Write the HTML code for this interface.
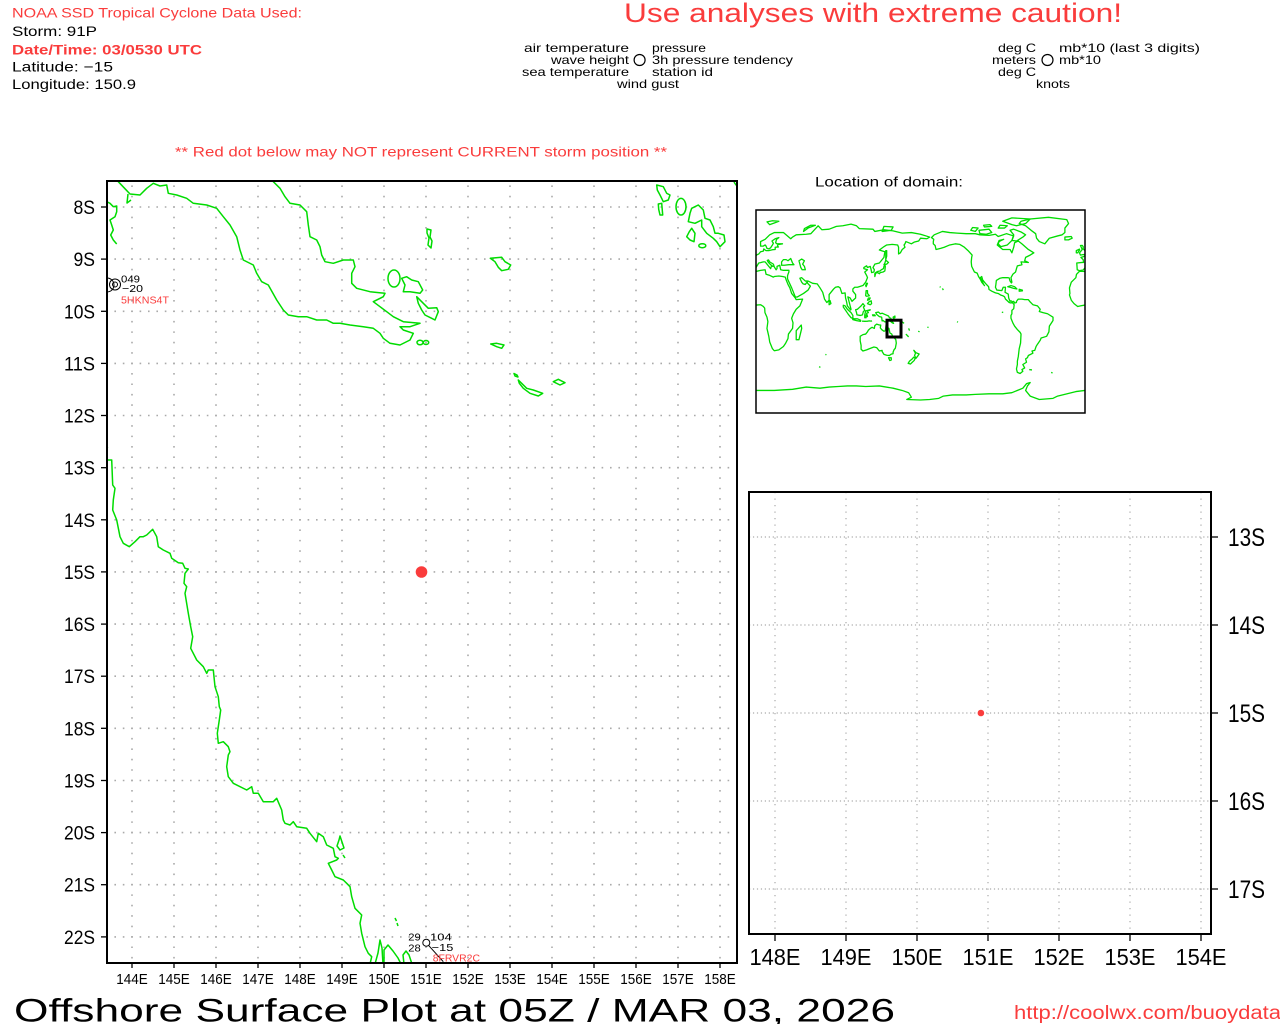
<!DOCTYPE html>
<html>
<head>
<meta charset="utf-8">
<style>
html,body{margin:0;padding:0;background:#fff;}
svg{display:block;}
text{font-family:"Liberation Sans",sans-serif;}
</style>
</head>
<body>
<svg width="1280" height="1024" viewBox="0 0 1280 1024" xmlns="http://www.w3.org/2000/svg">
<rect x="0" y="0" width="1280" height="1024" fill="#fff"/>

<!-- ===== Header text ===== -->
<text x="12" y="17.5" font-size="14" fill="#fa3c3c" textLength="290" lengthAdjust="spacingAndGlyphs">NOAA SSD Tropical Cyclone Data Used:</text>
<text x="12" y="36" font-size="14" fill="#000" textLength="85" lengthAdjust="spacingAndGlyphs">Storm: 91P</text>
<text x="12" y="54.3" font-size="14" font-weight="bold" fill="#fa3c3c" textLength="190" lengthAdjust="spacingAndGlyphs">Date/Time: 03/0530 UTC</text>
<text x="12" y="71.7" font-size="14" fill="#000" textLength="101" lengthAdjust="spacingAndGlyphs">Latitude: −15</text>
<text x="12" y="89" font-size="14" fill="#000" textLength="124" lengthAdjust="spacingAndGlyphs">Longitude: 150.9</text>

<text x="624" y="22" font-size="27" fill="#fa3c3c" textLength="498" lengthAdjust="spacingAndGlyphs">Use analyses with extreme caution!</text>

<!-- legend -->
<g font-size="12" fill="#000">
<text x="629" y="52" text-anchor="end" textLength="105" lengthAdjust="spacingAndGlyphs">air temperature</text>
<text x="652" y="52" textLength="54" lengthAdjust="spacingAndGlyphs">pressure</text>
<text x="629" y="64" text-anchor="end" textLength="78" lengthAdjust="spacingAndGlyphs">wave height</text>
<text x="652" y="64" textLength="141" lengthAdjust="spacingAndGlyphs">3h pressure tendency</text>
<text x="629" y="76" text-anchor="end" textLength="107" lengthAdjust="spacingAndGlyphs">sea temperature</text>
<text x="652" y="76" textLength="61" lengthAdjust="spacingAndGlyphs">station id</text>
<text x="617" y="88" textLength="62" lengthAdjust="spacingAndGlyphs">wind gust</text>
<text x="1036" y="52" text-anchor="end" textLength="38" lengthAdjust="spacingAndGlyphs">deg C</text>
<text x="1059" y="52" textLength="141" lengthAdjust="spacingAndGlyphs">mb*10 (last 3 digits)</text>
<text x="1036" y="64" text-anchor="end" textLength="44" lengthAdjust="spacingAndGlyphs">meters</text>
<text x="1059" y="64" textLength="42" lengthAdjust="spacingAndGlyphs">mb*10</text>
<text x="1036" y="76" text-anchor="end" textLength="38" lengthAdjust="spacingAndGlyphs">deg C</text>
<text x="1036" y="88" textLength="34" lengthAdjust="spacingAndGlyphs">knots</text>
</g>
<circle cx="639.6" cy="60" r="5.5" fill="none" stroke="#000" stroke-width="1.2"/>
<circle cx="1047.5" cy="60" r="5.5" fill="none" stroke="#000" stroke-width="1.2"/>

<text x="175" y="156.3" font-size="14" fill="#fa3c3c" textLength="492" lengthAdjust="spacingAndGlyphs">** Red dot below may NOT represent CURRENT storm position **</text>
<text x="815" y="186.7" font-size="14" fill="#000" textLength="148" lengthAdjust="spacingAndGlyphs">Location of domain:</text>

<!-- ===== Main map ===== -->
<defs>
<clipPath id="mainclip"><rect x="107" y="181" width="630" height="782"/></clipPath>
<clipPath id="locclip"><rect x="756" y="210" width="329" height="203"/></clipPath>
</defs>

<g stroke="#aaa" stroke-width="1.6" fill="none">
<g stroke-dasharray="1.6 6.8">
<line x1="106" y1="207" x2="737" y2="207"/>
<line x1="106" y1="259.1" x2="737" y2="259.1"/>
<line x1="106" y1="311.3" x2="737" y2="311.3"/>
<line x1="106" y1="363.4" x2="737" y2="363.4"/>
<line x1="106" y1="415.5" x2="737" y2="415.5"/>
<line x1="106" y1="467.7" x2="737" y2="467.7"/>
<line x1="106" y1="519.8" x2="737" y2="519.8"/>
<line x1="106" y1="571.9" x2="737" y2="571.9"/>
<line x1="106" y1="624.1" x2="737" y2="624.1"/>
<line x1="106" y1="676.2" x2="737" y2="676.2"/>
<line x1="106" y1="728.3" x2="737" y2="728.3"/>
<line x1="106" y1="780.5" x2="737" y2="780.5"/>
<line x1="106" y1="832.6" x2="737" y2="832.6"/>
<line x1="106" y1="884.7" x2="737" y2="884.7"/>
<line x1="106" y1="936.9" x2="737" y2="936.9"/>
</g>
<g stroke-dasharray="1.6 8.826">
<line x1="132" y1="185.35" x2="132" y2="963"/>
<line x1="174" y1="185.35" x2="174" y2="963"/>
<line x1="216" y1="185.35" x2="216" y2="963"/>
<line x1="258" y1="185.35" x2="258" y2="963"/>
<line x1="300" y1="185.35" x2="300" y2="963"/>
<line x1="342" y1="185.35" x2="342" y2="963"/>
<line x1="384" y1="185.35" x2="384" y2="963"/>
<line x1="426" y1="185.35" x2="426" y2="963"/>
<line x1="468" y1="185.35" x2="468" y2="963"/>
<line x1="510" y1="185.35" x2="510" y2="963"/>
<line x1="552" y1="185.35" x2="552" y2="963"/>
<line x1="594" y1="185.35" x2="594" y2="963"/>
<line x1="636" y1="185.35" x2="636" y2="963"/>
<line x1="678" y1="185.35" x2="678" y2="963"/>
<line x1="720" y1="185.35" x2="720" y2="963"/>
</g>
</g>

<!-- coastlines main -->
<g clip-path="url(#mainclip)" stroke="#00dc00" stroke-width="1.5" fill="none" stroke-linejoin="round">
<polyline points="118.3,181 118.3,181.7 130,194 140,195 146.7,188.3 153.3,183.3 160,186 166.7,185 168.3,193.3 176.7,195 186.7,198.3 193.3,203.3 206.7,205 216.7,208.3 223.3,216.7 230,225 236.7,236.7 240,250 243.3,260 253.3,265 256.7,273.3 261.7,281.7 268.3,285 276.7,300 283.3,310 288.3,315 298.3,316.7 306.7,316.7 316.7,320 326.7,320 333.3,323.3 340,323.3 350,325 363.3,326.7 373.3,328.3 380,333.3 383.3,338.3 390,343.3 400,345 410,340 413.3,333.3 403.3,330 400,326.7 410,326.7 420,323.3 403.3,321.7 393.3,316.7 386.7,311.7 380,306.7 373.3,301.7 383.3,296.7 385,293.3 370,291.7 356.7,288.3 351.7,283.3 351.7,273.3 355,266.7 353.3,260 343.3,260 333.3,263.3 325,261.7 321.7,255 320,246.7 316.7,240 310,236.7 308.3,225 306.7,211.7 300,205 290,203.3 285,196.7 280,188.3 273.3,181.7 272,180"/>
<polyline points="128,194 127,203 131,200"/>
<polyline points="106.7,201.7 110,203.3 113.3,206.7 116.7,206 116.7,211.7 115,216.7 110,220 111.7,225 113.3,230 110.7,235 113.3,240 116.7,244"/>
<!-- islands near PNG tip -->
<ellipse cx="394" cy="278.5" rx="6" ry="8.5"/>
<polygon points="401.7,278.3 406.7,276.7 411.7,280 418.3,281.7 422.7,290 420,293.3 410,291.7 403.3,291.7 405,285"/>
<polygon points="416.7,296.7 423.3,303.3 428.3,308.3 436.7,307.7 438.3,311.7 435,320 431.7,318.3 425,315 421.7,310 418.3,303.3"/>
<ellipse cx="420" cy="342.5" rx="3" ry="2.3"/>
<ellipse cx="426" cy="342.5" rx="2.7" ry="2"/>
<polygon points="427,229 431,230 430,237 432,241 431,248 428,245 429,238 427,233"/>
<polygon points="490.3,258.3 501.7,257.3 505,261.7 510.7,265 508.3,269.3 501.7,270.7 498.3,267.3 495,261.7"/>
<polygon points="490.7,344 496.7,343.3 504,345 501.7,348.3 496.7,346.7"/>
<polygon points="514,373.5 517,375 518,377 515,376"/>
<polygon points="518.3,380 526.7,388.3 533.3,390 542.7,393.3 538.3,396 530,393.3 523.3,388.3 519.3,383.3"/>
<polygon points="553.3,381.7 558.3,379.3 565,382.7 560,385"/>
<!-- Solomons top right -->
<polygon points="656.7,185 663.3,186.7 666.7,193.3 670,195 668.3,200 663.3,201.7 660,195 657.3,190"/>
<polygon points="658.3,204 661.7,203.3 662.7,215 660,215 658.7,209.3"/>
<ellipse cx="681" cy="206.7" rx="5" ry="8.3"/>
<polygon points="691.7,208.3 698.3,205 703.3,210 705,218.3 710,220 713.3,226.7 715,233.3 718.3,233.3 724,235 725,241.7 720,246.7 716.7,241.7 713.3,238.3 706.7,233.3 701.7,226.7 701.7,220 695,223.3 688.3,221.7 690,213.3"/>
<polygon points="691.7,228.3 695,233.3 694,241.7 690,240 686.7,236.7 689.3,231.7"/>
<ellipse cx="702.3" cy="245.7" rx="3.5" ry="2"/>
<polyline points="734,182 736,185 738,186"/>
<!-- Queensland -->
<polyline points="107,446 107.5,448"/>
<polyline points="106,460 111.7,460 112.7,485 115,488.3 113.3,500 112.7,510 116.7,520 120,536.7 123.3,543.3 129.3,546.7 135,541.7 140,536.7 143.3,536.7 146.7,535 152.7,529.3 156.7,536.7 158.3,546.7 163.3,550 170,553.3 171.7,558.3 178.3,562.7 182.7,563.3 185,568.3 188.3,569 185,573.3 184,583.3 186.7,586.7 185,593.3 188.3,613.3 190.7,626.7 192.7,636.7 190.7,648.3 196.7,660 203.3,666.7 206.7,673.3 208.3,670 213.3,670 215,686.7 218.3,696.7 219.3,706.7 220.7,710 219.3,720 217.3,733.3 218.3,743.3 223.3,741.7 228.3,746.7 230,751.7 228.3,755 226.7,766.7 228.3,776.7 233.3,783.3 246.7,790 251.7,786.7 253.3,793.3 258.3,793.3 263.3,801.7 273.3,801.7 276.7,798.3 281.7,810 283.3,820 285,823.3 290,825 293.3,821.7 296.7,826.7 306.7,828.3 310,833.3 316.7,841.7 318.3,833.3 323.3,836.7 326.7,845 333.3,848.3 335,856.7 338.3,858.3 336.7,860 328.3,863.3 331.7,870 335,876.7 343.3,880 346.7,883.3 350,886.7 351.7,896.7 355,908.3 361.7,915 360,923.3 361.7,933.3 365,946.7 368.3,953.3 371.7,956.7 370,964"/>
<polygon points="340,836 342,842 344,848 340,850 337,846 339,840"/>
<polyline points="343,855 345,858"/>
<polyline points="395,918 396.5,921"/>
<polyline points="397,923 398,926"/>
<polyline points="375,964 378,953 380,940 382,948 383,964"/>
<polyline points="384,964 384,950 388,945 393,951 398,958 401,964"/>
<polyline points="404,964 403,955 406,951 409,955 412,964"/>
</g>

<!-- stations -->
<g fill="none" stroke="#000" stroke-width="1">
<circle cx="115" cy="284.5" r="5.5"/>
<circle cx="115" cy="284.5" r="2.5"/>
<path d="M107,278 A7,7 0 0 1 107,292"/>
<circle cx="426.3" cy="942.7" r="3.5"/>
<line x1="428.5" y1="945.3" x2="443.3" y2="961.7"/>
</g>
<g font-size="10.5" fill="#000">
<text x="121" y="282.5" textLength="19" lengthAdjust="spacingAndGlyphs">049</text>
<text x="122" y="292" textLength="21" lengthAdjust="spacingAndGlyphs">−20</text>
<text x="121" y="303.5" fill="#fa3c3c" textLength="48" lengthAdjust="spacingAndGlyphs">5HKNS4T</text>
<text x="408.3" y="940.7" textLength="12.5" lengthAdjust="spacingAndGlyphs">29</text>
<text x="430" y="940.7" textLength="21.7" lengthAdjust="spacingAndGlyphs">104</text>
<text x="408.3" y="951.7" textLength="12.5" lengthAdjust="spacingAndGlyphs">28</text>
<text x="431.7" y="951" textLength="21.6" lengthAdjust="spacingAndGlyphs">−15</text>
<text x="432.7" y="961.7" fill="#fa3c3c" textLength="47.3" lengthAdjust="spacingAndGlyphs">8FRVR2C</text>
</g>

<!-- storm dot main -->
<circle cx="421.5" cy="572" r="5.8" fill="#fa3c3c"/>

<!-- main frame -->
<rect x="107" y="181" width="630" height="782" fill="none" stroke="#000" stroke-width="2"/>
<g stroke="#000" stroke-width="1.3">
<line x1="101" y1="207" x2="107" y2="207"/>
<line x1="101" y1="259.1" x2="107" y2="259.1"/>
<line x1="101" y1="311.3" x2="107" y2="311.3"/>
<line x1="101" y1="363.4" x2="107" y2="363.4"/>
<line x1="101" y1="415.5" x2="107" y2="415.5"/>
<line x1="101" y1="467.7" x2="107" y2="467.7"/>
<line x1="101" y1="519.8" x2="107" y2="519.8"/>
<line x1="101" y1="571.9" x2="107" y2="571.9"/>
<line x1="101" y1="624.1" x2="107" y2="624.1"/>
<line x1="101" y1="676.2" x2="107" y2="676.2"/>
<line x1="101" y1="728.3" x2="107" y2="728.3"/>
<line x1="101" y1="780.5" x2="107" y2="780.5"/>
<line x1="101" y1="832.6" x2="107" y2="832.6"/>
<line x1="101" y1="884.7" x2="107" y2="884.7"/>
<line x1="101" y1="936.9" x2="107" y2="936.9"/>
<line x1="132" y1="963" x2="132" y2="968"/>
<line x1="174" y1="963" x2="174" y2="968"/>
<line x1="216" y1="963" x2="216" y2="968"/>
<line x1="258" y1="963" x2="258" y2="968"/>
<line x1="300" y1="963" x2="300" y2="968"/>
<line x1="342" y1="963" x2="342" y2="968"/>
<line x1="384" y1="963" x2="384" y2="968"/>
<line x1="426" y1="963" x2="426" y2="968"/>
<line x1="468" y1="963" x2="468" y2="968"/>
<line x1="510" y1="963" x2="510" y2="968"/>
<line x1="552" y1="963" x2="552" y2="968"/>
<line x1="594" y1="963" x2="594" y2="968"/>
<line x1="636" y1="963" x2="636" y2="968"/>
<line x1="678" y1="963" x2="678" y2="968"/>
<line x1="720" y1="963" x2="720" y2="968"/>
</g>

<!-- main lat labels -->
<g font-size="19" fill="#000" text-anchor="end">
<text x="95" y="214" textLength="21.5" lengthAdjust="spacingAndGlyphs">8S</text>
<text x="95" y="266.1" textLength="21.5" lengthAdjust="spacingAndGlyphs">9S</text>
<text x="95" y="318.3" textLength="31" lengthAdjust="spacingAndGlyphs">10S</text>
<text x="95" y="370.4" textLength="31" lengthAdjust="spacingAndGlyphs">11S</text>
<text x="95" y="422.5" textLength="31" lengthAdjust="spacingAndGlyphs">12S</text>
<text x="95" y="474.7" textLength="31" lengthAdjust="spacingAndGlyphs">13S</text>
<text x="95" y="526.8" textLength="31" lengthAdjust="spacingAndGlyphs">14S</text>
<text x="95" y="578.9" textLength="31" lengthAdjust="spacingAndGlyphs">15S</text>
<text x="95" y="631.1" textLength="31" lengthAdjust="spacingAndGlyphs">16S</text>
<text x="95" y="683.2" textLength="31" lengthAdjust="spacingAndGlyphs">17S</text>
<text x="95" y="735.3" textLength="31" lengthAdjust="spacingAndGlyphs">18S</text>
<text x="95" y="787.5" textLength="31" lengthAdjust="spacingAndGlyphs">19S</text>
<text x="95" y="839.6" textLength="31" lengthAdjust="spacingAndGlyphs">20S</text>
<text x="95" y="891.7" textLength="31" lengthAdjust="spacingAndGlyphs">21S</text>
<text x="95" y="943.9" textLength="31" lengthAdjust="spacingAndGlyphs">22S</text>
</g>
<!-- main lon labels -->
<g font-size="15" fill="#000" text-anchor="middle">
<text x="132" y="984" textLength="31.5" lengthAdjust="spacingAndGlyphs">144E</text>
<text x="174" y="984" textLength="31.5" lengthAdjust="spacingAndGlyphs">145E</text>
<text x="216" y="984" textLength="31.5" lengthAdjust="spacingAndGlyphs">146E</text>
<text x="258" y="984" textLength="31.5" lengthAdjust="spacingAndGlyphs">147E</text>
<text x="300" y="984" textLength="31.5" lengthAdjust="spacingAndGlyphs">148E</text>
<text x="342" y="984" textLength="31.5" lengthAdjust="spacingAndGlyphs">149E</text>
<text x="384" y="984" textLength="31.5" lengthAdjust="spacingAndGlyphs">150E</text>
<text x="426" y="984" textLength="31.5" lengthAdjust="spacingAndGlyphs">151E</text>
<text x="468" y="984" textLength="31.5" lengthAdjust="spacingAndGlyphs">152E</text>
<text x="510" y="984" textLength="31.5" lengthAdjust="spacingAndGlyphs">153E</text>
<text x="552" y="984" textLength="31.5" lengthAdjust="spacingAndGlyphs">154E</text>
<text x="594" y="984" textLength="31.5" lengthAdjust="spacingAndGlyphs">155E</text>
<text x="636" y="984" textLength="31.5" lengthAdjust="spacingAndGlyphs">156E</text>
<text x="678" y="984" textLength="31.5" lengthAdjust="spacingAndGlyphs">157E</text>
<text x="720" y="984" textLength="31.5" lengthAdjust="spacingAndGlyphs">158E</text>
</g>

<!-- ===== Locator map ===== -->
<g clip-path="url(#locclip)">
<g transform="translate(756,311.5) scale(0.91389,-1.1278)" fill="none" stroke="#00dc00" stroke-width="1.3" vector-effect="non-scaling-stroke" stroke-linejoin="round">
<!-- Africa -->
<polyline vector-effect="non-scaling-stroke" points="0,5.7 5,6 8,4.5 9.5,3 9.8,-1 12,-5 13,-9 12,-15 14,-22 15,-27 18,-33 20,-34.8 25,-34 30,-31 32.5,-28 35,-24 35.5,-20 40,-15 40.5,-10 39,-6 41,-2 44,2 48,5 51,11 44,10.5 43,12 39,16 37,21 35,24 33,28 32,30.5 29,31 25,31.5 20,31 19,30.5 15,32 11,33 10,37 5,36.5 0,35.5"/>
<polyline vector-effect="non-scaling-stroke" points="360,5.7 355,5 352,4.4 348,7 345,10 343,14.7 343.5,16 343,21 345,26 350,30 350.7,33 354,35.7 360,35.5"/>
<polygon vector-effect="non-scaling-stroke" points="44,-25 47,-25 50,-15 49.5,-12 44,-17"/>
<!-- Eurasia -->
<polyline vector-effect="non-scaling-stroke" points="0,39 3,43 5,43.3 8,44 10,44 12.5,41.5 16,38 17,40.5 18.5,40 16,41.5 13.5,43.6 12.3,45.3 13.7,45.7 15,44 19,42 20,39.5 22,37 23,38 23,40 26,41 27,37 30,36.5 36,36.5 36,35 35,33 34.5,31.5 34.5,29 35,28 39,21 43,13 45,12.8 52,16 57,19 59.5,22.5 56.5,25 56,26.3 54,24 51.5,24.5 50,26 48,29.5 50,30 54,27 57,27 62,25 67,24.5 70,21 73,17 75,11 77.5,8 80,10 80,15 85,20 87,21.5 90,22 92,21 94,16 97.5,16.5 98,12 99,9 100,5 103.5,1.3 104,2 103,5 100.5,13 103,12 105,9 107,10.5 109,12 109,15 106,18 106,20 108,21.5 111,21.5 114,22.3 117,23 120,26 122,30 121,32 119,35 122,37 118,38 118,39 121,40.5 122,39 125,40 126,37 126.5,34.5 129,35 129.5,37 128,39 130,42 135,43 140,48 141,53 137,54 135,54.5 140,57.5 143,59 149,59.5 155,59 156,57 156,51 158,52 160,55 163,57 162,59 163,60 164,62 170,60 173,61.5 178,62.5 180,65 187,64.5 190,66 180,68.5 170,70 160,69.5 150,71.5 140,72.5 130,71 128,73 113,73.5 110,76 104,77.5 95,76 88,75.5 80,73 72,72.5 68,76 60,69 55,68.5 44,68 40,66 38,64.5 30,70 20,70 15,68 10,64 5,62 5,58 8,58 10,59 11,58 12,56 14,55.5 16,56.5 18,59 19,60.5 17.5,62.5 21,64.5 25,65.5 22.5,64 21.5,61 23,60 29,60 24,59.3 23.5,58 24.5,57.2 21,57 21,55 18,54.8 14,54 11,54 10,54.5 8.5,55.5 8,53.5 5,53 3,51 1.5,50.5 0,49.5"/>
<polygon vector-effect="non-scaling-stroke" points="28,41 28,44 30,46 33,46 35,45 38,47 40,43 41.5,41.5 36,41.5 31,41"/>
<polygon vector-effect="non-scaling-stroke" points="47,45 50,46.5 53,45 51,42 53,40 54,37 50.5,37 49,39 48,42"/>
<polygon vector-effect="non-scaling-stroke" points="80,6 82,7 81,9.7 80,9.5"/>
<!-- Europe west at right edge -->
<polygon vector-effect="non-scaling-stroke" points="358.5,50.5 355,50 354,52 355.5,53.5 357,55 355,58.5 357,58.6 358,57.5 358,55.5 360,54 361.5,53 361.5,51"/>
<polygon vector-effect="non-scaling-stroke" points="352,52 354,54.5 354,55.3 350.5,54 350.5,52"/>
<polyline vector-effect="non-scaling-stroke" points="360,49.5 358,48.5 355.5,48 358,46 358.5,43.5 357,43.5 351,43 351.5,37 354,36.2 358,36.8 360,38.8"/>
<polygon vector-effect="non-scaling-stroke" points="338,63.5 342,63.5 346,65 345,66.5 338,66"/>
<!-- Japan etc -->
<polygon vector-effect="non-scaling-stroke" points="130,31 131,34 133,34.5 135,33.5 136,34.5 139,35 141,36 141.5,40 141,41.5 140,40 139.5,38 137,37 136,36 133,35.5 131,34.5 130,33.5"/>
<polygon vector-effect="non-scaling-stroke" points="140,41.5 141,43 142,45.5 145,43.5 143,42"/>
<polygon vector-effect="non-scaling-stroke" points="142,46 143,49 143,54 142,54"/>
<polygon vector-effect="non-scaling-stroke" points="120.5,22 122,25 121,25 120,23"/>
<polygon vector-effect="non-scaling-stroke" points="120,14 120.5,18.5 122,18.5 122,16 124,14 121,13.5"/>
<polygon vector-effect="non-scaling-stroke" points="122,7 125,6 126.5,7 126,9.5 123.5,8.5"/>
<polygon vector-effect="non-scaling-stroke" points="122,10 124,10.5 125,12 123,12"/>
<polygon vector-effect="non-scaling-stroke" points="109,1.5 110,-1 110.5,-3 114,-3.5 116.5,-3 117.5,0 119,1 117.5,4 119,5 117,7 116,6 115,5 113,3.5 111,2"/>
<polygon vector-effect="non-scaling-stroke" points="95.5,5.5 97.5,5 100,2 104,-1 106,-3.5 106,-6 104,-5.5 101,-2.5 98.5,0.5 95.5,4"/>
<polygon vector-effect="non-scaling-stroke" points="105.5,-6 108,-6.5 111,-6.5 114.5,-7.7 114.5,-8.7 110,-8.1 106,-7.2"/>
<polyline vector-effect="non-scaling-stroke" points="116,-8.5 119,-8.7 122,-8.6 124,-8.3 126,-8.5 127,-8.3"/>
<polygon vector-effect="non-scaling-stroke" points="119,-5.5 120.5,-5.5 120.5,-3 122,-4.5 121,-1.5 123,-1 121.5,0.8 124.5,1 125,1.5 120,0.5 119,-3"/>
<polygon vector-effect="non-scaling-stroke" points="127.5,-3 130,-3 130.5,-3.8 128,-3.8"/>
<polygon vector-effect="non-scaling-stroke" points="131,-1 134,-0.5 136,-2 138,-1.5 141,-2.6 145,-4 146,-5.5 147.5,-6 148,-8 150.5,-10.5 149,-10 146,-8 144,-7.8 143,-9 141,-9.2 139,-8 138,-8.4 137.5,-5 135,-4.5 132,-2.5"/>
<polygon vector-effect="non-scaling-stroke" points="150,-5 152,-4 152,-5.5 150.5,-6"/>
<polyline vector-effect="non-scaling-stroke" points="156,-7 159,-8.5 162,-10.5"/>
<!-- Australia -->
<polygon vector-effect="non-scaling-stroke" points="114,-22 114,-26 115,-30 115,-33.5 117,-35 121,-34 124,-33 129,-31.5 132,-32 135,-35 138,-34.5 138,-35.5 140,-38 143,-38.8 146,-39 148,-37.8 150,-37.5 150,-36 151,-34 152.5,-32.5 153.5,-28 153,-25 151,-23 149.5,-22 148.5,-20 146.5,-19 146,-17 145.5,-15 143.5,-14 142.5,-10.7 142,-14 141.5,-17 140,-17.5 137.5,-16 136,-14.5 136.5,-12 135,-12 132,-11.2 130,-12.5 129.5,-15 127,-14 125,-15 123,-16.5 122,-18 120,-20 117,-20.5"/>
<polygon vector-effect="non-scaling-stroke" points="145,-41 148,-41 148,-43 146.5,-43.5"/>
<polygon vector-effect="non-scaling-stroke" points="172.7,-34.4 175,-36.5 178.5,-37.7 177,-39.5 175,-41.5 173.5,-39 174.5,-37"/>
<polygon vector-effect="non-scaling-stroke" points="172.5,-40.5 174.3,-41.5 173,-43.5 171,-45 169,-46.6 166.5,-46 168,-44 171,-42"/>
<polyline vector-effect="non-scaling-stroke" points="164,-20 167,-22.5"/>
<polyline vector-effect="non-scaling-stroke" points="167,-15 168,-17"/>
<polyline vector-effect="non-scaling-stroke" points="177.5,-17.5 179,-18"/>
<polyline vector-effect="non-scaling-stroke" points="187.5,-13.8 188.8,-14.2"/>
<polyline vector-effect="non-scaling-stroke" points="201,22 202,21.5"/>
<polyline vector-effect="non-scaling-stroke" points="204,20.5 205,19"/>
<polyline vector-effect="non-scaling-stroke" points="220,-9 221,-9.5"/>
<polyline vector-effect="non-scaling-stroke" points="269,-0.5 270.5,-0.9"/>
<polyline vector-effect="non-scaling-stroke" points="69,-49 70.5,-49.5"/>
<polyline vector-effect="non-scaling-stroke" points="299,-51.5 302,-51.8"/>
<polyline vector-effect="non-scaling-stroke" points="323,-54 324.5,-54.5"/>
<polyline vector-effect="non-scaling-stroke" points="76,-38 77,-38.5"/>
<!-- Americas -->
<polygon vector-effect="non-scaling-stroke" points="192,65.5 195,68 204,71 212,70 220,69.5 230,69 240,69 245,68 255,67.5 262,68.5 265,66.5 274,69 278,68 282,67 280,63 275,59 268,57.5 265,60 266,62 271,64 266,63 264,59 267,57 270,55 278,55 280,52 282,57 283,61 287,62.5 291,60 298,55 304,52 300,50 295,48 294,45 298,43.5 290,44 291,41.5 286,40.5 285,38 284,35 281,33 279,30 280,26 279.5,25.3 278,27 277,29.8 275,30 270,30 267,29.5 263,27.5 262.5,24 262,21.5 263.5,19 269,18.5 270.5,21.5 273,21.5 272.5,17 276,15.5 276.5,12 278,9 279,9.5 281,8.5 282,9 283,7.5 285,8 285,9 287,11 291,11 294,10.5 298,10.5 300,8.5 303,6 308,5 311,2 310,0 314,-1 319,-2 325,-5 325,-8 321,-13 320.5,-18 318,-22 312,-23.5 311,-25.5 308,-29 306.5,-31 305,-34.5 302,-35 303,-37 298,-39 297,-41 295,-42 296,-45 292,-47 294,-50 291,-51.5 292,-53 289,-55 286,-54 285,-51 286,-47 286,-44 287,-40 288,-33 289.5,-28 290,-20 289,-18.5 286,-16 283,-13 281,-10 279,-6 279,-3.5 280,-2 280,1 282,2.5 282.5,6 281,7.5 280,8 279,7.5 277,8 275,9.5 273,11 272,13 270,14 268,14.5 265,16 262,16.5 258,18 255,19.5 254.5,22 251,25 248,28 247,31 245.5,30 247.5,27 249,24 250,23 247,26 245.5,28.5 243.5,31 242,34 239,35 237.5,37.5 236,40 235.5,44 236,48 236.5,50 232,54 228,57 223,59.5 218,60 212,59 206,57 202,56 197,55 196,58.5 194,60 194,62 194.5,64"/>
<polygon vector-effect="non-scaling-stroke" points="275.5,22 279,23 283,22 285.5,20 282,20.5 278,21.5"/>
<polygon vector-effect="non-scaling-stroke" points="288,19.7 291.5,19 291.5,18.3 288,18"/>
<polygon vector-effect="non-scaling-stroke" points="280,63 285,62.5 292,66 295,68 290,70.5 282,73 278,72 280,70 282,68"/>
<polygon vector-effect="non-scaling-stroke" points="245,69 252,68.5 258,70 255,73 244,72"/>
<polygon vector-effect="non-scaling-stroke" points="235,72 240,71 243,74 237,74.5"/>
<polygon vector-effect="non-scaling-stroke" points="280,77 285,76 295,78 300,82 280,83 270,80"/>
<polygon vector-effect="non-scaling-stroke" points="265,74 272,74 275,76 267,76.5"/>
<polygon vector-effect="non-scaling-stroke" points="250,75 258,75.5 256,77 249,76.5"/>
<polygon vector-effect="non-scaling-stroke" points="316,60 310,62 307,65 306,69 301,72 295,76 288,78 290,80 300,82 320,83.5 340,81.5 342,78 338,74 338,70 335,68 330,67 321,65 318,62"/>
<polygon vector-effect="non-scaling-stroke" points="15,77 20,78.5 25,80 18,80.5 12,79.5"/>
<polygon vector-effect="non-scaling-stroke" points="52,71 57,74 65,76.5 60,76.5 53,73.5"/>
<polygon vector-effect="non-scaling-stroke" points="138,71 148,72 150,75 140,75.5"/>
<!-- Antarctica -->
<polyline vector-effect="non-scaling-stroke" points="0,-70 20,-70 40,-69 55,-67 70,-68 80,-67 90,-66.5 100,-66 110,-66 120,-66.5 135,-66 150,-68 160,-70 167,-72 170,-76 165,-78 180,-78.5 190,-78 200,-77 205,-75 215,-74 230,-74 240,-73.5 255,-73 270,-73 280,-72 292,-68 296,-64 300,-63 297,-66 295,-70 300,-75 310,-78 325,-77 330,-75 340,-73 350,-71 360,-70"/>
</g>
</g>
<rect x="887" y="320.2" width="14" height="16.8" fill="none" stroke="#000" stroke-width="3"/>
<rect x="756" y="210" width="329" height="203" fill="none" stroke="#000" stroke-width="1.5"/>

<!-- ===== Inset zoom map ===== -->
<g stroke="#aaa" stroke-width="1.2" fill="none">
<g stroke-dasharray="1.2 2.75">
<line x1="749" y1="537" x2="1211" y2="537"/>
<line x1="749" y1="625" x2="1211" y2="625"/>
<line x1="749" y1="713" x2="1211" y2="713"/>
<line x1="749" y1="801" x2="1211" y2="801"/>
<line x1="749" y1="889" x2="1211" y2="889"/>
</g>
<g stroke-dasharray="1.2 5.3">
<line x1="775" y1="492" x2="775" y2="934"/>
<line x1="846" y1="492" x2="846" y2="934"/>
<line x1="917" y1="492" x2="917" y2="934"/>
<line x1="988" y1="492" x2="988" y2="934"/>
<line x1="1059" y1="492" x2="1059" y2="934"/>
<line x1="1130" y1="492" x2="1130" y2="934"/>
<line x1="1201" y1="492" x2="1201" y2="934"/>
</g>
</g>
<circle cx="980.9" cy="713" r="3.3" fill="#fa3c3c"/>
<rect x="749" y="492" width="462" height="442" fill="none" stroke="#000" stroke-width="2"/>
<g stroke="#000" stroke-width="1.3">
<line x1="775" y1="934" x2="775" y2="941"/>
<line x1="846" y1="934" x2="846" y2="941"/>
<line x1="917" y1="934" x2="917" y2="941"/>
<line x1="988" y1="934" x2="988" y2="941"/>
<line x1="1059" y1="934" x2="1059" y2="941"/>
<line x1="1130" y1="934" x2="1130" y2="941"/>
<line x1="1201" y1="934" x2="1201" y2="941"/>
<line x1="1211" y1="537" x2="1218" y2="537"/>
<line x1="1211" y1="625" x2="1218" y2="625"/>
<line x1="1211" y1="713" x2="1218" y2="713"/>
<line x1="1211" y1="801" x2="1218" y2="801"/>
<line x1="1211" y1="889" x2="1218" y2="889"/>
</g>
<g font-size="23" fill="#000" text-anchor="middle">
<text x="775" y="965" textLength="51" lengthAdjust="spacingAndGlyphs">148E</text>
<text x="846" y="965" textLength="51" lengthAdjust="spacingAndGlyphs">149E</text>
<text x="917" y="965" textLength="51" lengthAdjust="spacingAndGlyphs">150E</text>
<text x="988" y="965" textLength="51" lengthAdjust="spacingAndGlyphs">151E</text>
<text x="1059" y="965" textLength="51" lengthAdjust="spacingAndGlyphs">152E</text>
<text x="1130" y="965" textLength="51" lengthAdjust="spacingAndGlyphs">153E</text>
<text x="1201" y="965" textLength="51" lengthAdjust="spacingAndGlyphs">154E</text>
</g>
<g font-size="25" fill="#000">
<text x="1228" y="546" textLength="37" lengthAdjust="spacingAndGlyphs">13S</text>
<text x="1228" y="634" textLength="37" lengthAdjust="spacingAndGlyphs">14S</text>
<text x="1228" y="722" textLength="37" lengthAdjust="spacingAndGlyphs">15S</text>
<text x="1228" y="810" textLength="37" lengthAdjust="spacingAndGlyphs">16S</text>
<text x="1228" y="898" textLength="37" lengthAdjust="spacingAndGlyphs">17S</text>
</g>

<!-- ===== Footer ===== -->
<text x="14" y="1021.5" font-size="32" fill="#000" textLength="881" lengthAdjust="spacingAndGlyphs">Offshore Surface Plot at 05Z / MAR 03, 2026</text>
<text x="1014" y="1019" font-size="19" fill="#fa3c3c" textLength="267" lengthAdjust="spacingAndGlyphs">http://coolwx.com/buoydata</text>
</svg>
</body>
</html>
